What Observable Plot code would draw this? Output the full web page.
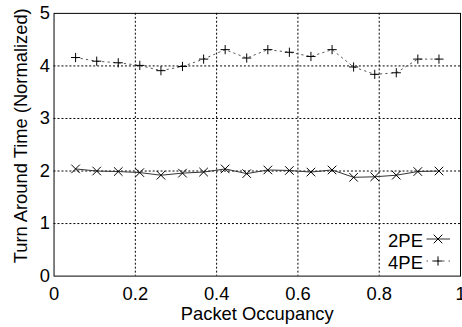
<!DOCTYPE html>
<html>
<head>
<meta charset="utf-8">
<script src="https://cdn.jsdelivr.net/npm/d3@7"></script>
<script src="https://cdn.jsdelivr.net/npm/@observablehq/plot@0.6"></script>
<style>
  html, body { margin: 0; padding: 0; background: #fff; }
  #wrap { position: relative; width: 462px; height: 327px; overflow: hidden; font-family: "Liberation Sans", Arial, sans-serif; }
  #legend { position: absolute; left: 383px; top: 229.5px; font-size: 18.5px; color: #000; }
  #legend .row { display: flex; align-items: center; height: 22.7px; line-height: 22.7px; }
  #legend .lab { width: 40px; text-align: right; padding-right: 0px; }
  #legend svg { display: block; }
</style>
</head>
<body>
<div id="wrap"></div>
<script>
// Data
const occupancy = [0.053, 0.105, 0.158, 0.211, 0.263, 0.316, 0.368, 0.421, 0.474, 0.526, 0.579, 0.632, 0.684, 0.737, 0.789, 0.842, 0.895, 0.947];
const pe2 = [2.04, 2.00, 1.99, 1.97, 1.92, 1.96, 1.98, 2.04, 1.95, 2.02, 2.01, 1.98, 2.02, 1.88, 1.89, 1.92, 1.99, 2.00];
const pe4 = [4.16, 4.09, 4.06, 4.01, 3.91, 3.99, 4.13, 4.31, 4.15, 4.31, 4.26, 4.18, 4.31, 3.98, 3.84, 3.87, 4.13, 4.13];
const seriesNames = ["2PE", "4PE"];
const xTicks = [0, 0.2, 0.4, 0.6, 0.8, 1];
const yTicks = [0, 1, 2, 3, 4, 5];
const xGrid = [0.2, 0.4, 0.6, 0.8];
const yGrid = [1, 2, 3, 4];
const xLabel = "Packet Occupancy";
const yLabel = "Turn Around Time (Normalized)";

const d2 = occupancy.map((x, i) => ({x, y: pe2[i]}));
const d4 = occupancy.map((x, i) => ({x, y: pe4[i]}));

const font = "Liberation Sans, Arial, sans-serif";
const fs = 18.5;

const chart = Plot.plot({
  width: 466,
  height: 327,
  marginTop: 13,
  marginBottom: 49,
  marginLeft: 54,
  marginRight: 2,
  style: {fontFamily: font, fontSize: fs + "px", color: "#000", background: "#fff", overflow: "visible"},
  x: {domain: [0, 1]},
  y: {domain: [0, 5]},
  marks: [
    Plot.gridX(xGrid, {stroke: "#000", strokeOpacity: 1, strokeDasharray: "2,2"}),
    Plot.gridY(yGrid, {stroke: "#000", strokeOpacity: 1, strokeDasharray: "2,2"}),
    Plot.frame({stroke: "#000"}),
    Plot.axisX(xTicks, {tickSize: 0, tickPadding: 11, label: null, fontSize: fs, tickFormat: d => String(d)}),
    Plot.axisY(yTicks, {tickSize: 0, tickPadding: 4, label: null, fontSize: fs, tickFormat: d => String(d)}),
    Plot.line(d2, {x: "x", y: "y", stroke: "#333", strokeWidth: 1}),
    Plot.dot(d2, {x: "x", y: "y", symbol: "times", r: 4, stroke: "#000", strokeWidth: 1}),
    Plot.line(d4, {x: "x", y: "y", stroke: "#555", strokeWidth: 1, strokeDasharray: "1.5,4"}),
    Plot.dot(d4, {x: "x", y: "y", symbol: "plus", r: 3.1, stroke: "#000", strokeWidth: 1}),
    Plot.text([xLabel], {frameAnchor: "bottom", dy: 38.5, lineAnchor: "middle", textAnchor: "middle", fontSize: fs, fill: "#000"}),
    Plot.text([yLabel], {frameAnchor: "left", rotate: -90, dx: -33.5, dy: -9, lineAnchor: "middle", textAnchor: "middle", fontSize: fs, fill: "#000"})
  ]
});

const wrap = document.getElementById("wrap");
wrap.appendChild(chart);

// Legend
const legend = document.createElement("div");
legend.id = "legend";
wrap.appendChild(legend);
const styles = [
  {name: seriesNames[0], symbol: d3.symbolTimes, size: Math.PI * 16, stroke: "#333", dash: null},
  {name: seriesNames[1], symbol: d3.symbolPlus, size: Math.PI * 3.1 * 3.1, stroke: "#555", dash: "1.5,4"}
];
styles.forEach(s => {
  const row = d3.select(legend).append("div").attr("class", "row");
  row.append("div").attr("class", "lab").text(s.name);
  const svg = row.append("svg").attr("width", 30).attr("height", 22.7);
  svg.append("line").attr("x1", 3.5).attr("x2", 27).attr("y1", 9).attr("y2", 9)
    .attr("stroke", s.stroke).attr("stroke-dasharray", s.dash);
  svg.append("path").attr("d", d3.symbol(s.symbol, s.size)())
    .attr("transform", "translate(15,9)").attr("fill", "none").attr("stroke", "#000");
});
</script>
</body>
</html>
